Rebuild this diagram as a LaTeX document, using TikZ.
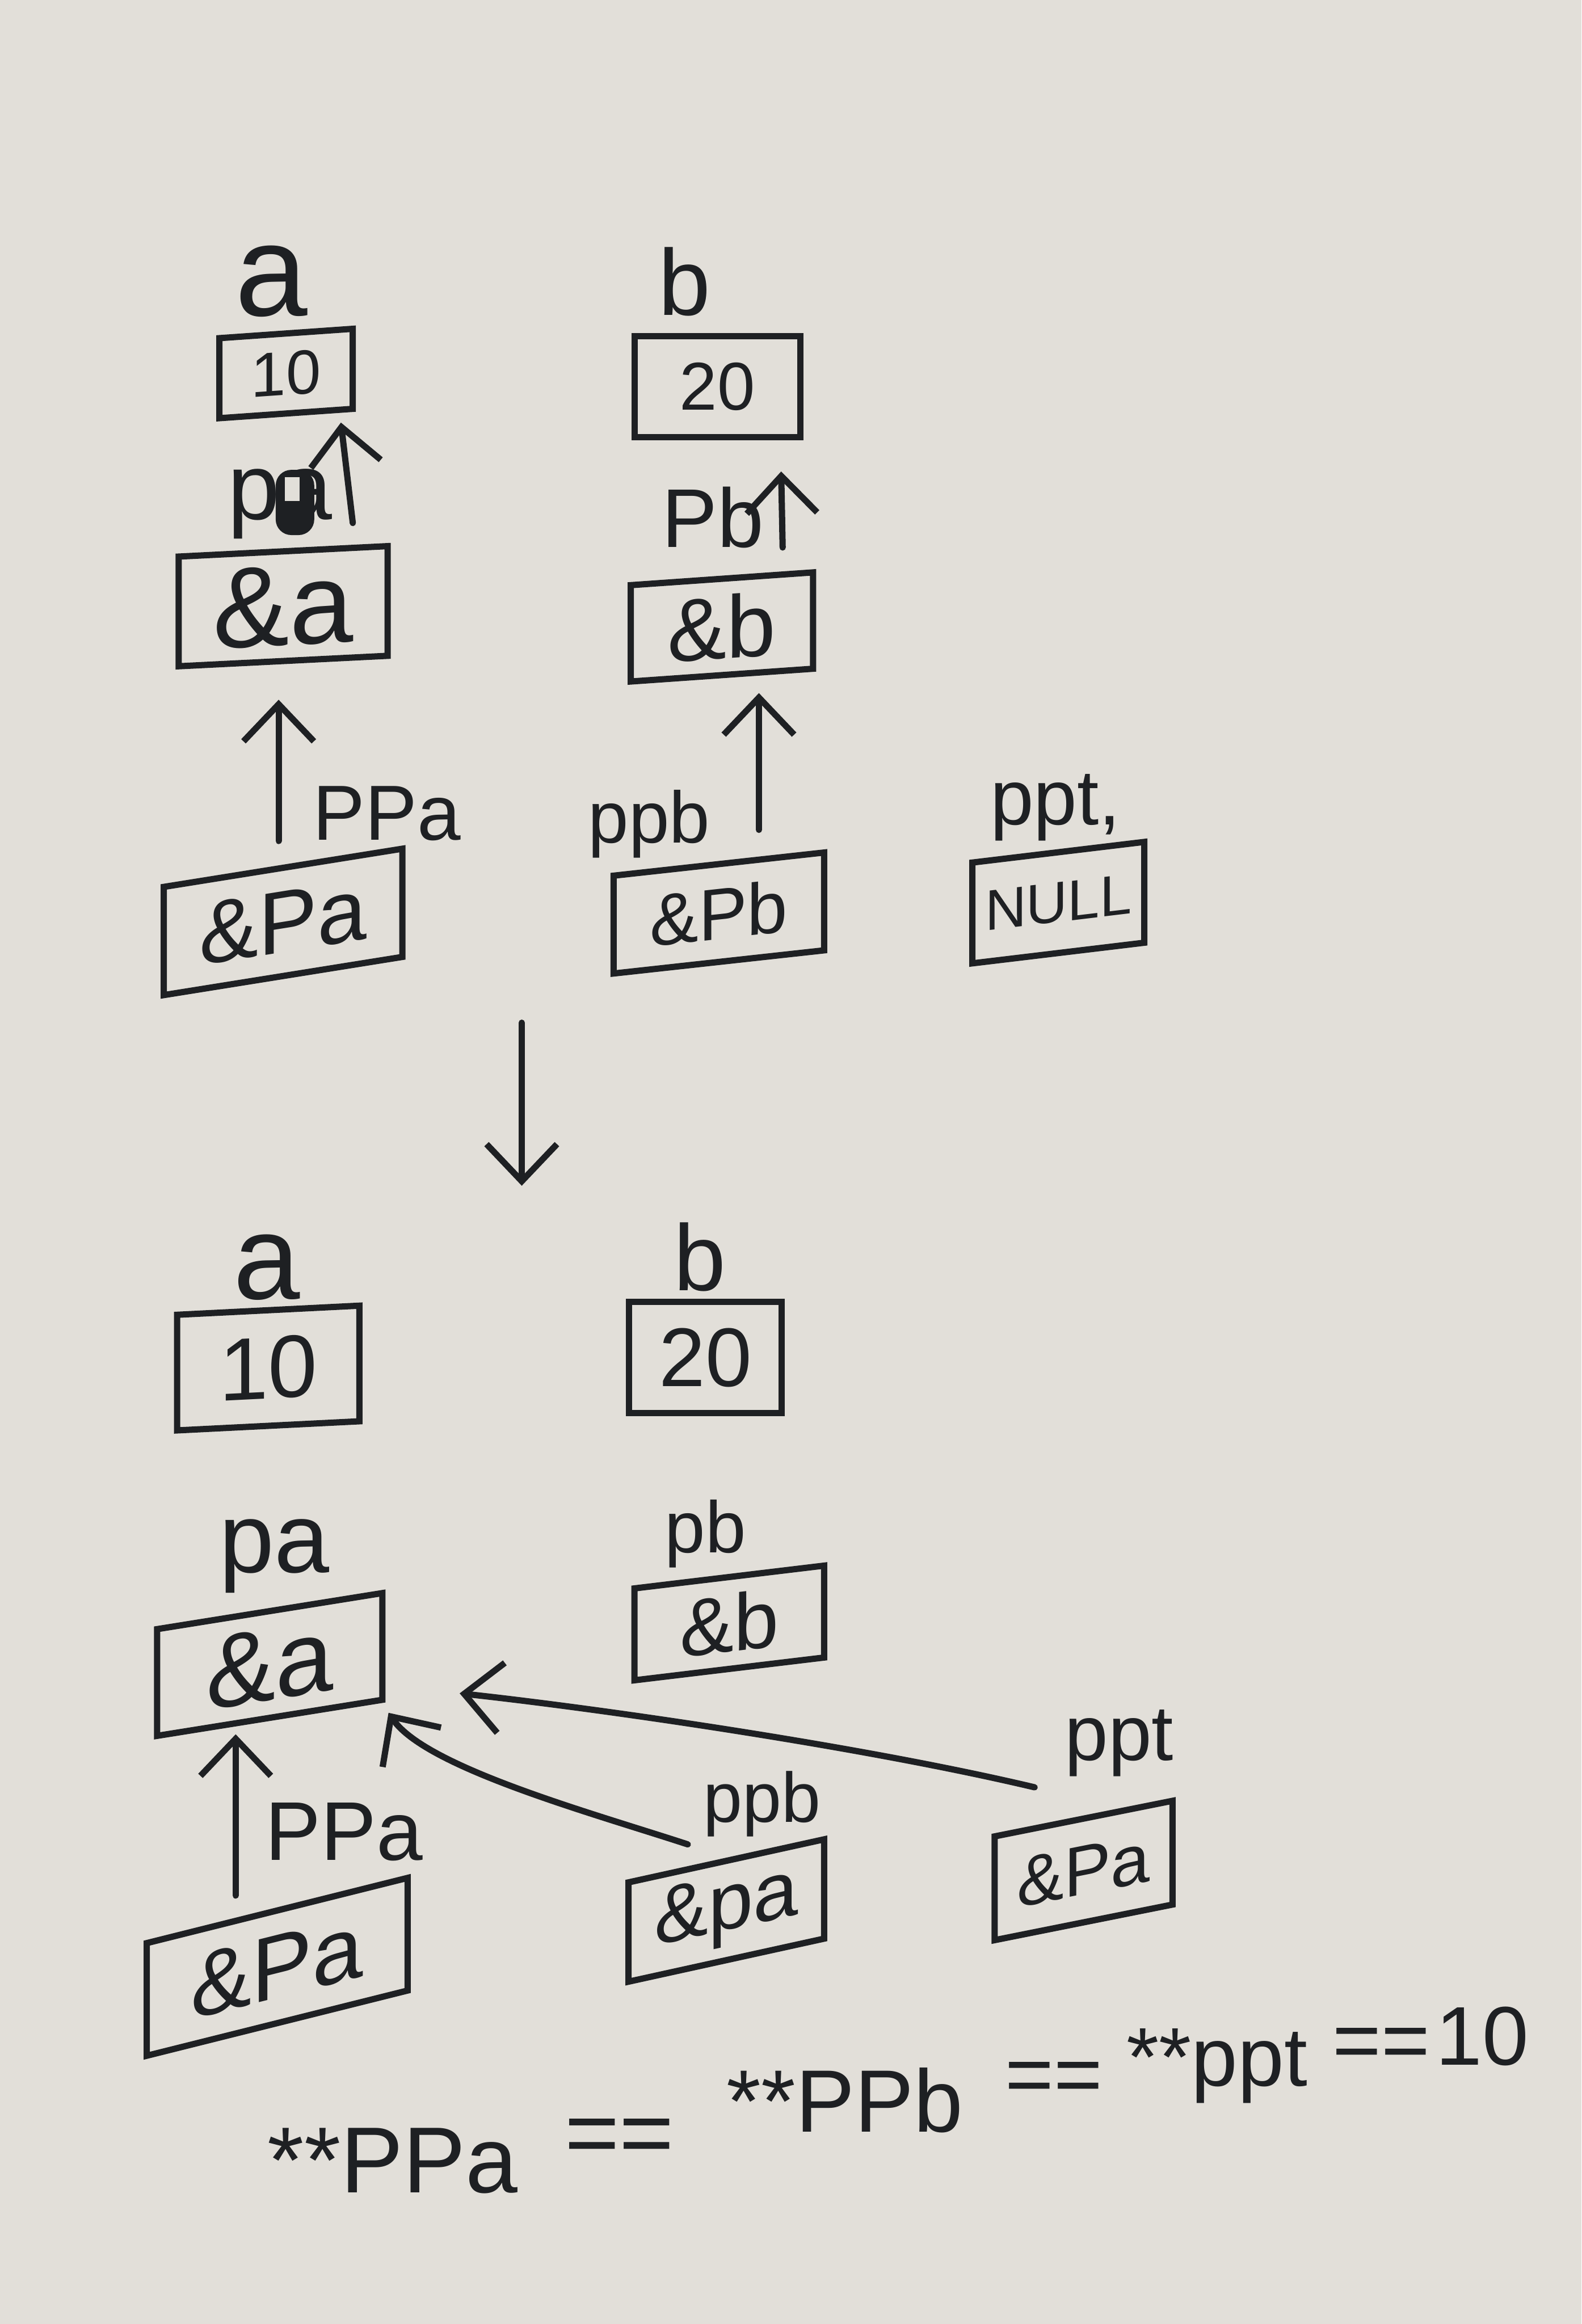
\documentclass[tikz,border=0pt]{standalone}
\usepackage{fontspec}
\newfontfamily\hand{Liberation Sans}
\usetikzlibrary{arrows.meta,calc}
\definecolor{paper}{RGB}{226,223,217}
\definecolor{ink}{RGB}{30,32,35}
\begin{document}
\begin{tikzpicture}[x=0.02cm,y=-0.02cm,
  lab/.style={text=ink, inner sep=0pt, font={\hand\fontsize{#1pt}{#1pt}\selectfont}},
  bx/.style n args={4}{draw=ink, text=ink, line width=2.4pt, rectangle, inner sep=0pt,
     minimum width=#1*0.02cm, minimum height=#2*0.02cm,
     font={\hand\fontsize{#3pt}{#3pt}\selectfont}, yslant=#4},
  arr/.style={draw=ink, line width=2.4pt, line cap=round,
     -{Straight Barb[length=0.5cm,width=0.95cm]}}
]
\useasboundingbox (0,0) rectangle (1067,1568);
\fill[paper] (0,0) rectangle (1067,1568);

% ---------- top state ----------
\node[lab=50] (la1) at (183,190) {a};
\node[bx={90}{54}{24}{0.07}] (a1) at (193,252) {10};
\node[lab=36] (lb1) at (462,190) {b};
\node[bx={112}{68}{26}{0}] (b1) at (484,261) {20};
\node[lab=36] (lpa1) at (189,340) {pa};
\fill[ink, rounded corners=6] (186,317) rectangle (212,361);
\fill[paper] (192,322) rectangle (202,338);
\node[bx={141}{74}{44}{0.05}] (pa1) at (191,409) {\&a};
\node[lab=32] (lpb1) at (481,349) {Pb};
\node[bx={123}{65}{34}{0.07}] (pb1) at (487,423) {\&b};
\node[lab=30] (lppa1) at (261,549) {PPa};
\node[bx={161}{73}{34}{0.16}] (ppa1) at (191,622) {\&Pa};
\node[lab=28] (lppb1) at (438,556) {ppb};
\node[bx={142}{66}{28}{0.11}] (ppb1) at (485,616) {\&Pb};
\node[lab=30] (lppt1) at (712,545) {ppt,};
\node[bx={116}{68}{22}{0.12}] (ppt1) at (714,609) {NULL};

\draw[arr] ($(pa1.north)+(47,-17)$) -- ($(a1.south)+(37,4)$);
\draw[arr] ($(pb1.north)+(41,-19)$) -- ($(b1.south)+(43,21)$);
\draw[arr] ($(ppa1.north)+(-3,-16)$) -- ($(pa1.south)+(-3,24)$);
\draw[arr] ($(ppb1.north)+(27,-21)$) -- ($(pb1.south)+(25,10)$);

% ---------- transition ----------
\coordinate (m1) at (352,690);
\coordinate (m2) at (352,800);
\draw[arr] (m1) -- (m2);

% ---------- bottom state ----------
\node[lab=46] (la2) at (180,855) {a};
\node[bx={123}{78}{34}{0.05}] (a2) at (181,923) {10};
\node[lab=36] (lb2) at (472,848) {b};
\node[bx={103}{75}{32}{0}] (b2) at (476,916) {20};
\node[lab=38] (lpa2) at (185,1050) {pa};
\node[bx={152}{72}{40}{0.16}] (pa2) at (182,1123) {\&a};
\node[lab=28] (lpb2) at (476,1035) {pb};
\node[bx={128}{62}{31}{0.12}] (pb2) at (492,1095) {\&b};
\node[lab=32] (lppa2) at (232,1236) {PPa};
\node[bx={176}{76}{35}{0.25}] (ppa2) at (187,1327) {\&Pa};
\node[lab=27] (lppb2) at (514,1217) {ppb};
\node[bx={132}{67}{31}{0.22}] (ppb2) at (490,1289) {\&pa};
\node[lab=30] (lppt2) at (755,1176) {ppt};
\node[bx={120}{70}{27}{0.2}] (ppt2) at (731,1262) {\&Pa};

\draw[arr] ($(ppa2.north)+(-28,-8)$) -- ($(pa2.south)+(-23,9)$);
\draw[arr] ($(ppb2.north)+(-26,-9)$) .. controls +(-64,-21) and +(25,37) .. ($(pa2.south east)+(2,7)$);
\draw[arr] ($(ppt2.north)+(-33,-19)$) .. controls +(-118,-28) and +(92,10) .. ($(pa2.east)+(50,32)$);

% ---------- rising formula ----------
\node[lab=36] (f1) at (265,1458) {**PPa};
\node[lab=36] (f2) at (418,1445) {==};
\node[lab=34] (f3) at (570,1417) {**PPb};
\node[lab=32] (f4) at (711,1405) {==};
\node[lab=32] (f5) at (821,1394) {**ppt};
\node[lab=32] (f6) at (932,1382) {==};
\node[lab=32] (f7) at (1000,1374) {10};
\end{tikzpicture}
\end{document}
